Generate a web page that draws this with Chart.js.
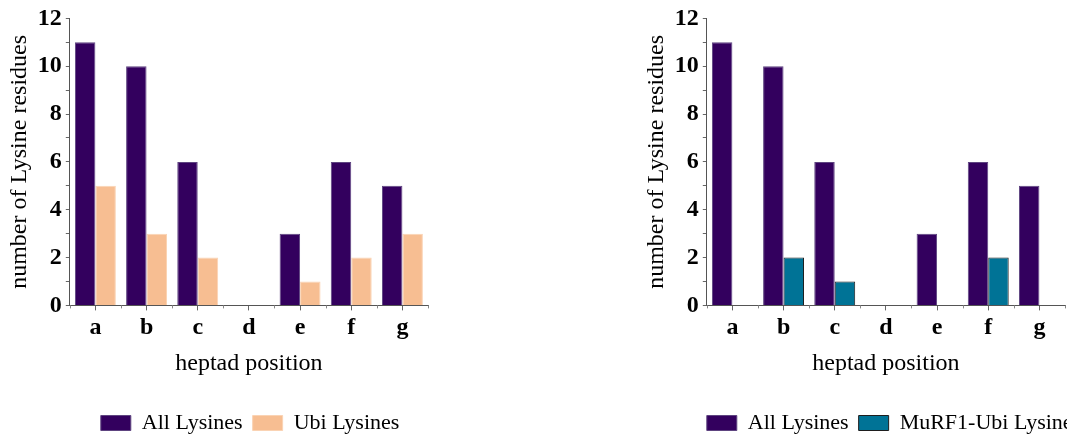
<!DOCTYPE html>
<html>
<head>
<meta charset="utf-8">
<script src="https://cdn.jsdelivr.net/npm/chart.js@4.4.1/dist/chart.umd.min.js"></script>
<style>
  html, body { margin: 0; padding: 0; background: #fff; overflow: hidden; }
  body { width: 1067px; height: 436px; position: relative; }
  .panel { position: absolute; top: 0; width: 440px; height: 436px; }
  #left { left: 0; }
  #right { left: 637px; }
</style>
</head>
<body>
<div class="panel" id="left"><canvas id="chart-left"></canvas></div>
<div class="panel" id="right"><canvas id="chart-right"></canvas></div>
<script>
// heptad positions and lysine counts
const positions = ['a', 'b', 'c', 'd', 'e', 'f', 'g'];
const allLysines = [11, 10, 6, 0, 3, 6, 5];
const ubiLysines = [5, 3, 2, 0, 1, 2, 3];
const murf1UbiLysines = [0, 2, 1, 0, 0, 2, 0];
const yLabels = [0, 2, 4, 6, 8, 10, 12];

const SERIF = "'Liberation Serif', 'Times New Roman', serif";
Chart.defaults.font.family = SERIF;
Chart.defaults.color = '#000';

// small ticks on the category boundaries under the x axis
const boundaryTicks = {
    id: 'boundaryTicks',
    afterDraw(chart) {
        const x = chart.scales.x;
        const ctx = chart.ctx;
        ctx.save();
        ctx.strokeStyle = '#888';
        ctx.lineWidth = 1;
        for (let i = 0; i <= positions.length; i++) {
            const px = Math.round(x.getPixelForValue(i - 0.5)) + 0.5;
            ctx.beginPath();
            ctx.moveTo(px, x.top);
            ctx.lineTo(px, x.top + 3);
            ctx.stroke();
        }
        ctx.restore();
    }
};

// move the legend so it starts near the left of the plot area
const legendShift = {
    id: 'legendShift',
    afterLayout(chart, args, opts) {
        const lg = chart.legend;
        const w = lg.width;
        lg.left = chart.chartArea.left + (opts.offset || 0) - lg.options.labels.padding;
        lg.right = lg.left + w;
    }
};

function makeChart(id, datasets, legendOffset) {
    const ctx = document.getElementById(id).getContext('2d');
    return new Chart(ctx, {
        type: 'bar',
        data: { labels: positions, datasets: datasets },
        plugins: [boundaryTicks, legendShift],
        options: {
            responsive: true,
            maintainAspectRatio: false,
            animation: false,
            layout: { padding: { top: 3, right: 12, left: 0, bottom: -8 } },
            datasets: { bar: { categoryPercentage: 0.8, barPercentage: 1.0 } },
            plugins: {
                tooltip: { enabled: false },
                legendShift: { offset: legendOffset },
                legend: {
                    position: 'bottom',
                    align: 'start',
                    labels: {
                        boxWidth: 30,
                        boxHeight: 15,
                        padding: 10,
                        color: '#000',
                        font: { size: 22, family: SERIF }
                    }
                }
            },
            scales: {
                x: {
                    grid: {
                        offset: false,
                        drawOnChartArea: false,
                        tickLength: 5,
                        color: '#666'
                    },
                    border: { color: '#555', width: 1 },
                    ticks: {
                        padding: 3,
                        font: { size: 24, weight: 'bold', family: SERIF }
                    },
                    title: {
                        display: true,
                        text: 'heptad position',
                        padding: { top: 4, bottom: 24 },
                        font: { size: 24, family: SERIF }
                    }
                },
                y: {
                    min: 0,
                    max: 12,
                    grid: {
                        drawOnChartArea: false,
                        tickLength: 4,
                        color: '#666'
                    },
                    border: { color: '#555', width: 1 },
                    ticks: {
                        stepSize: 1,
                        autoSkip: false,
                        padding: 4,
                        font: { size: 24, weight: 'bold', family: SERIF },
                        callback: (v) => yLabels.includes(v) ? v : ''
                    },
                    title: {
                        display: true,
                        text: 'number of Lysine residues',
                        padding: { top: 5, bottom: 0 },
                        font: { size: 24, family: SERIF }
                    }
                }
            }
        }
    });
}

makeChart('chart-left', [
    {
        label: 'All Lysines',
        data: allLysines,
        backgroundColor: '#33005E',
        borderColor: '#5E4480',
        borderWidth: 1
    },
    {
        label: 'Ubi Lysines',
        data: ubiLysines,
        backgroundColor: '#F7BE92',
        borderColor: '#FAD3B4',
        borderWidth: 1
    }
], 31);

makeChart('chart-right', [
    {
        label: 'All Lysines',
        data: allLysines,
        backgroundColor: '#33005E',
        borderColor: '#5E4480',
        borderWidth: 1
    },
    {
        label: 'MuRF1-Ubi Lysines',
        data: murf1UbiLysines,
        backgroundColor: '#007396',
        borderColor: '#1E1E1E',
        borderWidth: 1
    }
], 0);
</script>
</body>
</html>
